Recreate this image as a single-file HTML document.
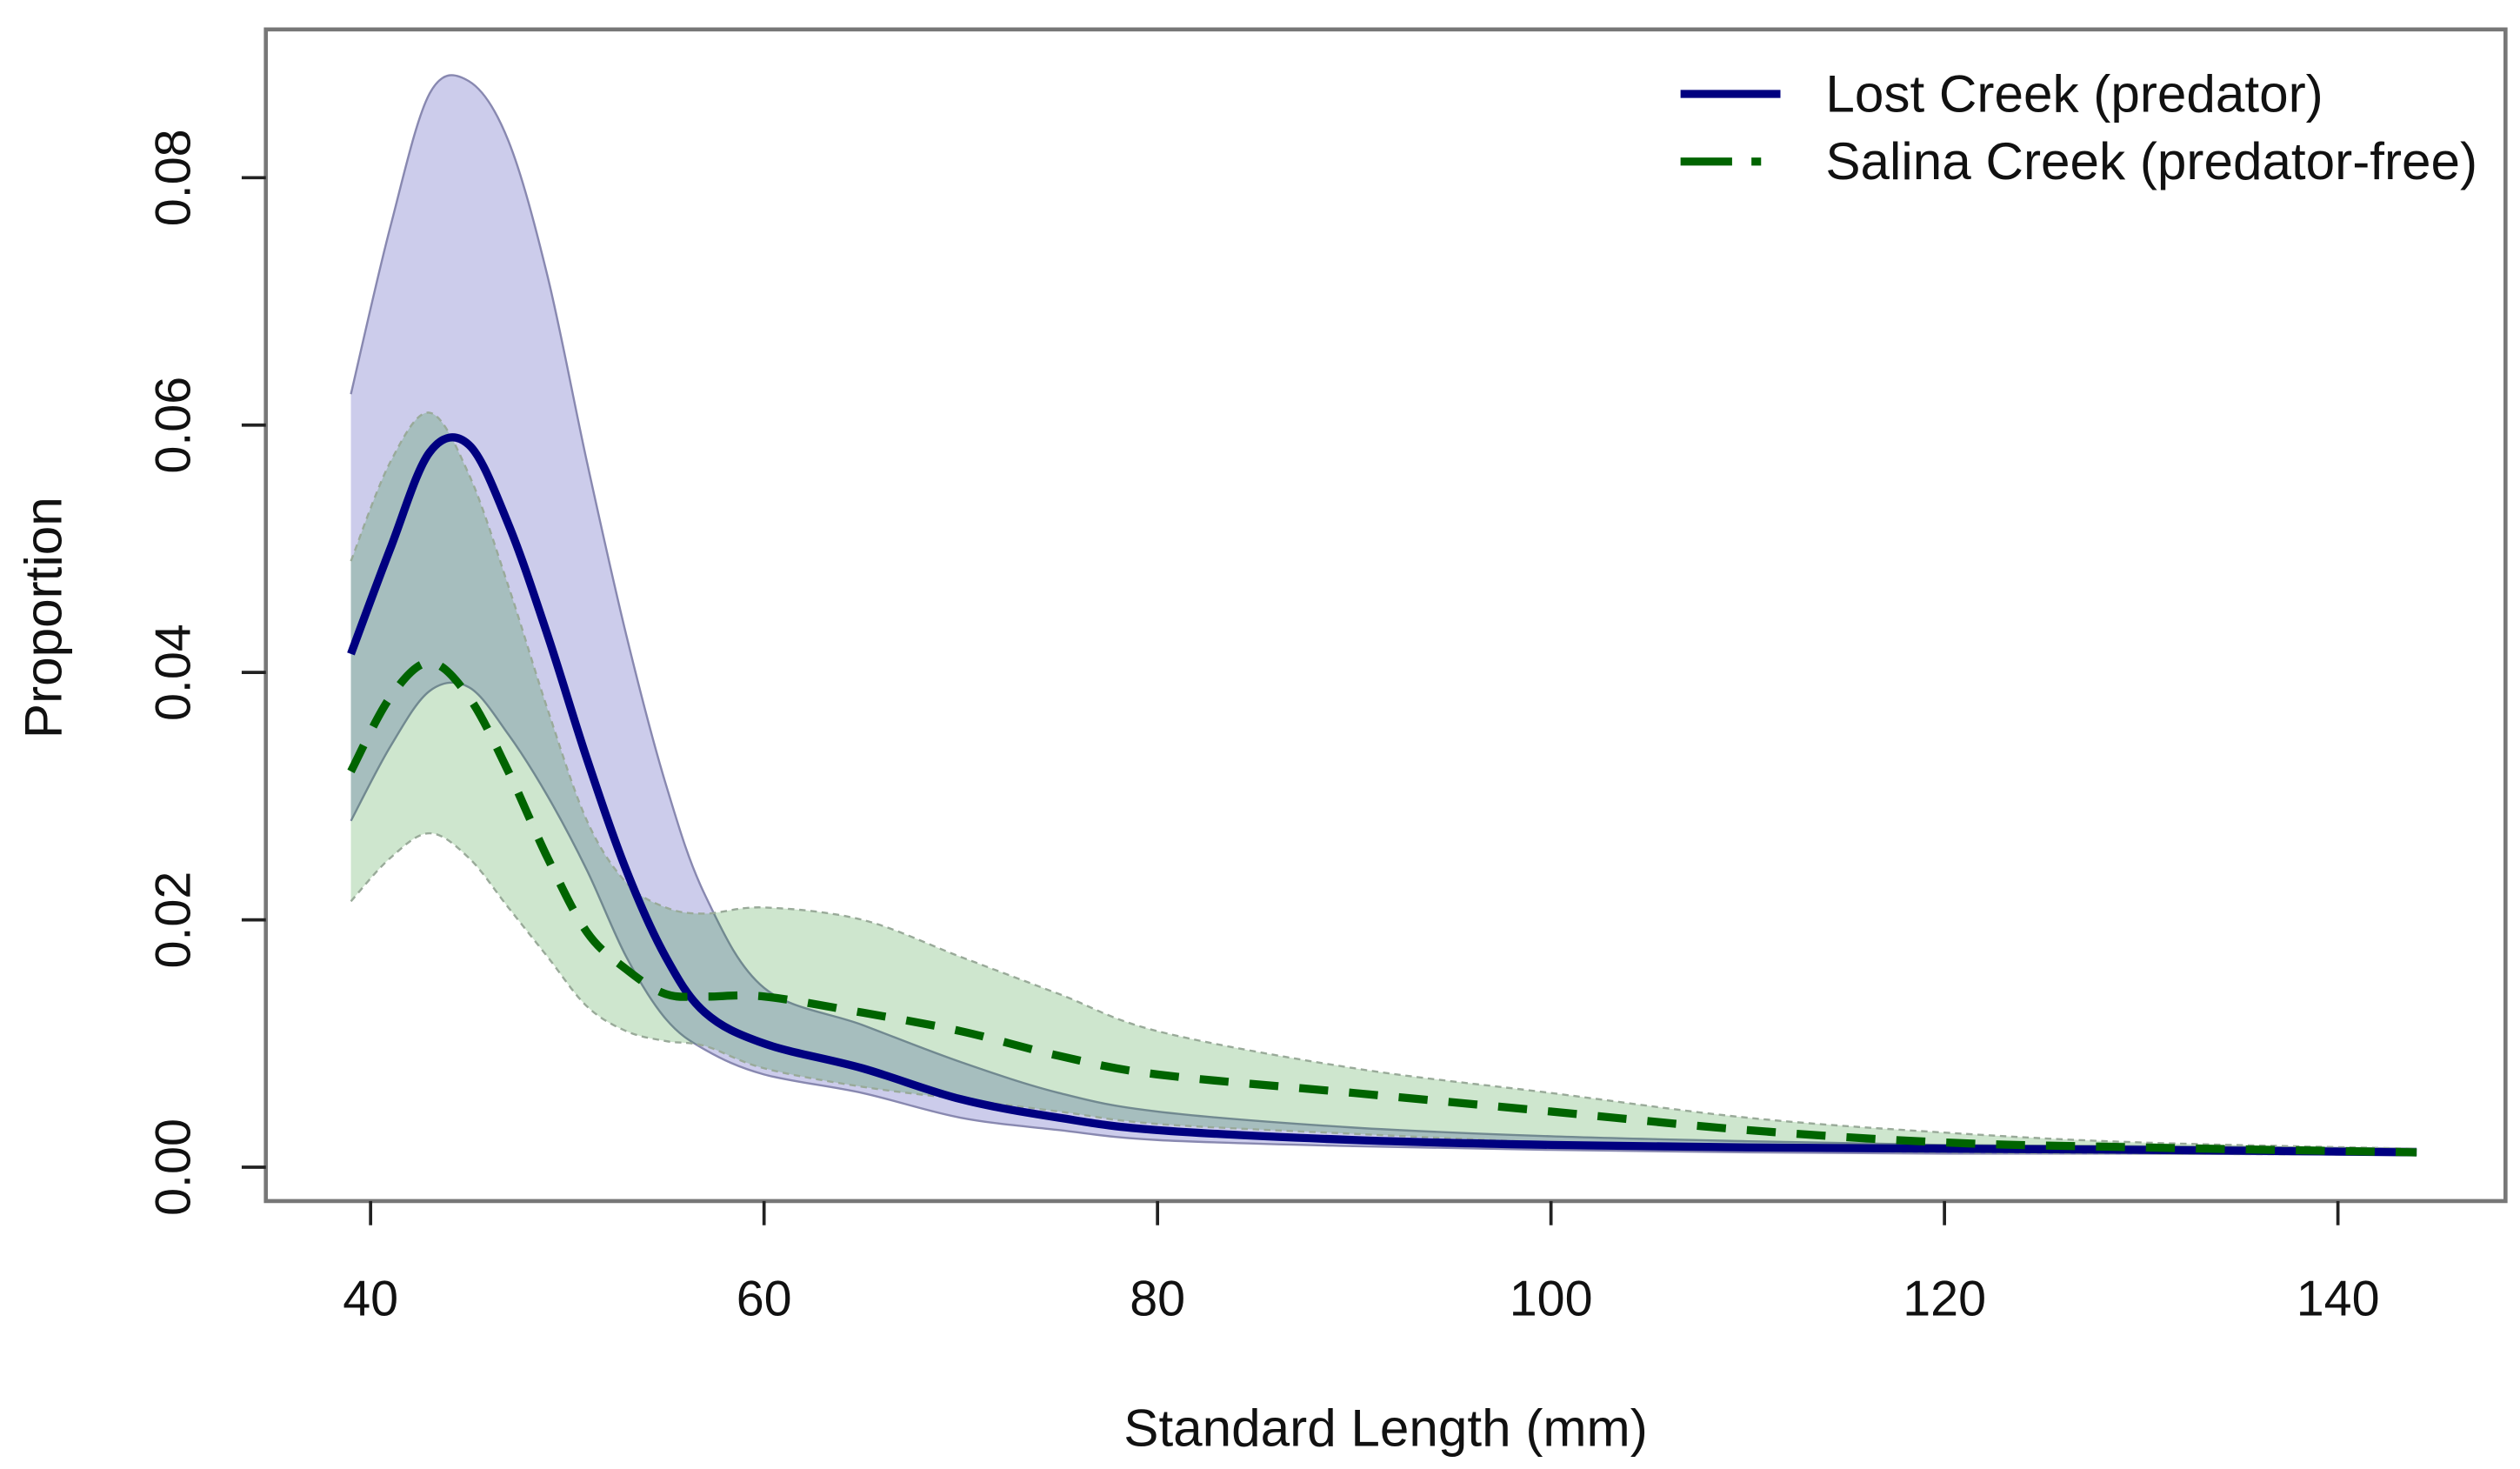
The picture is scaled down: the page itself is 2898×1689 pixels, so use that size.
<!DOCTYPE html>
<html><head><meta charset="utf-8"><style>
html,body{margin:0;padding:0;background:#fff;}
svg{display:block;font-family:"Liberation Sans",Arial,sans-serif;}
</style></head><body>
<svg id="chart" width="2898" height="1689" viewBox="0 0 1564 911" xmlns="http://www.w3.org/2000/svg">
<g id="fills"></g><g id="lines"></g>
<rect x="165" y="18" width="1390" height="727" fill="none" stroke="#777" stroke-width="2.5"/>
<g id="axes"></g>
<text x="860" y="897" font-size="32.5" text-anchor="middle" fill="#111">Standard Length (mm)</text>
<text transform="translate(38,383) rotate(-90)" font-size="32.5" text-anchor="middle" fill="#111">Proportion</text>
<g>
<line x1="1043" y1="58" x2="1105" y2="58" stroke="#000080" stroke-width="5"/>
<text x="1133" y="69" font-size="32.5" fill="#111">Lost Creek (predator)</text>
<line x1="1043" y1="100" x2="1075" y2="100" stroke="#006400" stroke-width="5"/>
<line x1="1087" y1="100" x2="1093" y2="100" stroke="#006400" stroke-width="5"/>
<text x="1133" y="111" font-size="32.5" fill="#111">Salina Creek (predator-free)</text>
</g>
</svg>
<script>
const xs = [39,41,43,45,47,49,51,53,55,57,60,65,70,75,80,90,100,110,120,130,144];
const lostMean = [0.0415,0.050,0.0578,0.0584,0.052,0.043,0.033,0.024,0.017,0.0125,0.0100,0.0080,0.0055,0.0040,0.0030,0.0022,0.0018,0.0016,0.0015,0.0014,0.0012];
const lostUpper = [0.0625,0.076,0.0868,0.0878,0.083,0.072,0.057,0.043,0.031,0.022,0.0145,0.0115,0.0085,0.006,0.0045,0.0032,0.0025,0.0021,0.0018,0.0017,0.0015];
const lostLower = [0.028,0.034,0.0385,0.0388,0.035,0.030,0.024,0.017,0.012,0.0095,0.0075,0.006,0.004,0.003,0.0022,0.0017,0.0014,0.0012,0.0011,0.0011,0.0010];
const salMean = [0.032,0.038,0.0408,0.038,0.032,0.025,0.019,0.016,0.014,0.0138,0.0138,0.0125,0.011,0.009,0.0075,0.006,0.0045,0.003,0.002,0.0016,0.0012];
const salUpper = [0.049,0.057,0.061,0.056,0.047,0.037,0.028,0.023,0.021,0.0205,0.021,0.020,0.017,0.014,0.011,0.008,0.006,0.004,0.0028,0.002,0.0015];
const salLower = [0.0215,0.025,0.027,0.025,0.021,0.017,0.013,0.011,0.0102,0.0098,0.008,0.0065,0.0055,0.0045,0.0035,0.0027,0.002,0.0015,0.0012,0.0011,0.001];
const xTicks = [40,60,80,100,120,140];
const yTicks = [0,0.02,0.04,0.06,0.08];
const yTickLabels = ["0.00","0.02","0.04","0.06","0.08"];

const X = v => 230 + (v-40)*(1451-230)/100;
const Y = v => 724 - v*(724-110)/0.08;
const NS = "http://www.w3.org/2000/svg";
function pts(arr){ return xs.map((x,i)=>[X(x),Y(arr[i])]); }
function smooth(p, move){
  let d = (move?"M":"L")+p[0][0].toFixed(2)+","+p[0][1].toFixed(2);
  for(let i=0;i<p.length-1;i++){
    const p0=p[Math.max(i-1,0)],p1=p[i],p2=p[i+1],p3=p[Math.min(i+2,p.length-1)];
    const c1=[p1[0]+(p2[0]-p0[0])/6,p1[1]+(p2[1]-p0[1])/6];
    const c2=[p2[0]-(p3[0]-p1[0])/6,p2[1]-(p3[1]-p1[1])/6];
    d+=" C"+c1.map(n=>n.toFixed(2))+" "+c2.map(n=>n.toFixed(2))+" "+p2.map(n=>n.toFixed(2));
  }
  return d;
}
function mk(tag, attrs, parent){
  const e=document.createElementNS(NS,tag);
  for(const k in attrs) e.setAttribute(k,attrs[k]);
  parent.appendChild(e); return e;
}
const fills=document.getElementById('fills'), lines=document.getElementById('lines'), axes=document.getElementById('axes');
function band(up,lo,fill,stroke,dash,name){
  const d=smooth(pts(up),true)+" "+smooth(pts(lo).reverse(),false)+" Z";
  const p=mk('path',{d:d,fill:fill,stroke:'none'},fills);
  
  
  [up,lo].forEach(a=>{
    const b=mk('path',{d:smooth(pts(a),true),fill:'none',stroke:stroke,'stroke-width':1.3,'stroke-dasharray':dash},fills);
    
    
  });
}
band(lostUpper,lostLower,'rgba(40,40,170,0.24)','#8888b0','none','lost-creek-ci-band');
band(salUpper,salLower,'rgba(30,140,30,0.22)','#99aa99','4 3','salina-creek-ci-band');
const l1=mk('path',{d:smooth(pts(lostMean),true),fill:'none',stroke:'#000080','stroke-width':5},lines);


const l2=mk('path',{d:smooth(pts(salMean),true),fill:'none',stroke:'#006400','stroke-width':5,'stroke-dasharray':'18 13'},lines);


xTicks.forEach(t=>{
  const ln=mk('line',{x1:X(t),y1:745,x2:X(t),y2:760,stroke:'#222','stroke-width':2},axes);
  
  
  const tx=mk('text',{x:X(t),y:816,'font-size':31,'text-anchor':'middle',fill:'#111'},axes);
  tx.textContent=t;
  
  
});
yTicks.forEach((t,i)=>{
  const ln=mk('line',{x1:150,y1:Y(t),x2:165,y2:Y(t),stroke:'#222','stroke-width':2},axes);
  
  
  const tx=mk('text',{transform:`translate(118,${Y(t)}) rotate(-90)`,'font-size':31,'text-anchor':'middle',fill:'#111'},axes);
  tx.textContent=yTickLabels[i];
  
  
});
</script>
</body></html>
